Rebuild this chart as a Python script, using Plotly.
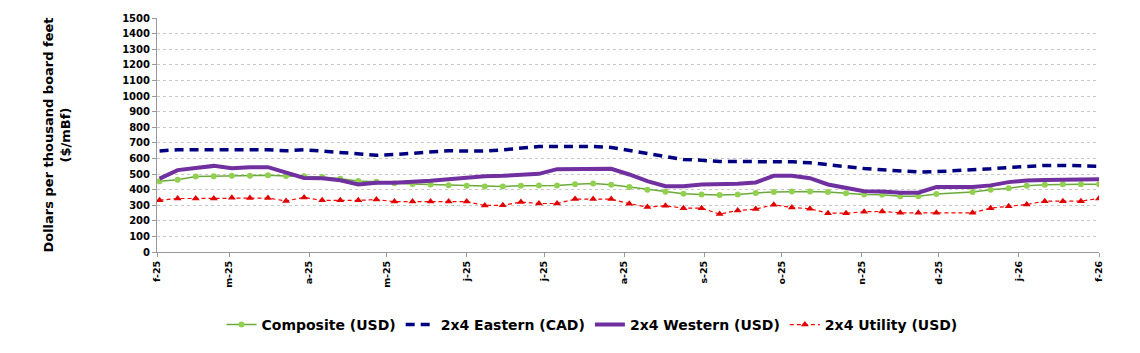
import plotly.graph_objects as go
import pandas as pd

# weekly dates (Feb 2025 - Feb 2026)
dates = pd.date_range("2025-02-02", periods=53, freq="7D")

composite = [453, 463, 484, 485, 488, 488, 492, 487, 485, 480, 470, 455, 451, 441,
             436, 432, 428, 424, 420, 420, 424, 427, 427, 435, 439, 431, 417, 399,
             386, 373, 369, 365, 369, 379, 384, 388, 388, 384, 377, 368, 367, 358,
             358, 371, None, 384, 399, 409, 424, 431, 435, 435, 435]
eastern = [648, 655, 655, 655, 655, 655, 655, 649, 655, 647, 638, 628, 620, 625,
           634, 644, 649, 647, 647, 655, 668, 676, 676, 676, 676, 670, 650, 629,
           608, 593, 588, 580, 580, 580, 580, 578, 572, 559, 544, 535, 527, 518,
           513, 515, None, 525, 533, 542, 550, 555, 555, 555, 550]
western = [470, 525, 538, 552, 537, 544, 544, 510, 475, 472, 460, 433, 444, 444,
           448, 456, 466, 477, 486, 488, 497, 501, 531, 533, 533, 533, 497, 454,
           422, 422, 433, 435, 437, 446, 488, 488, 473, 433, 409, 390, 388, 380,
           380, 416, None, 416, 427, 448, 459, 461, 461, 467, 467]
utility = [332, 343, 343, 343, 347, 346, 346, 327, 350, 331, 331, 331, 336, 323,
           323, 323, 323, 323, 298, 300, 320, 311, 311, 339, 339, 339, 310, 288,
           296, 281, 281, 243, 266, 275, 303, 285, 277, 249, 249, 258, 260, 251,
           251, 251, None, 251, 281, 294, 305, 326, 326, 326, 343]

tick_dates = pd.date_range("2025-02-01", periods=13, freq="MS")
tick_labels = ["f-25", "m-25", "a-25", "m-25", "j-25", "j-25", "a-25",
               "s-25", "o-25", "n-25", "d-25", "j-26", "f-26"]

FONT = "DejaVu Sans, Verdana, sans-serif"

fig = go.Figure()
fig.add_trace(go.Scatter(x=dates, y=composite, name="Composite (USD)", mode="lines+markers",
                         connectgaps=True,
                         line=dict(color="#6aaa3a", width=1.5),
                         marker=dict(color="#92d050", size=6, symbol="circle")))
fig.add_trace(go.Scatter(x=dates, y=eastern, name="2x4 Eastern (CAD)", mode="lines",
                         connectgaps=True,
                         line=dict(color="#000080", width=3.5, dash="9px,6px")))
fig.add_trace(go.Scatter(x=dates, y=western, name="2x4 Western (USD)", mode="lines",
                         connectgaps=True,
                         line=dict(color="#7030a0", width=4)))
fig.add_trace(go.Scatter(x=dates, y=utility, name="2x4 Utility (USD)", mode="lines+markers",
                         connectgaps=True,
                         line=dict(color="#ff0000", width=1.2, dash="4px,3px"),
                         marker=dict(color="#e00000", size=7, symbol="triangle-up")))

fig.update_layout(
    width=1140, height=353,
    margin=dict(l=157, r=41, t=18, b=101, autoexpand=False),
    paper_bgcolor="white", plot_bgcolor="white",
    font=dict(family=FONT, color="black"),
    legend=dict(orientation="h", x=(592 - 157) / 942, xanchor="center",
                yref="container", y=1 - 325 / 353, yanchor="middle",
                font=dict(size=14, weight="bold", family=FONT), traceorder="normal",
                itemwidth=30),
)
fig.update_xaxes(
    type="date", range=["2025-02-01", "2026-02-01"],
    tickmode="array", tickvals=tick_dates, ticktext=tick_labels,
    tickangle=-90, tickfont=dict(size=9.5, weight="bold", family=FONT),
    showgrid=False, showline=True, linecolor="#999999", linewidth=1,
    ticks="outside", ticklen=4, tickcolor="#999999", zeroline=False,
)
fig.update_yaxes(
    range=[0, 1500], dtick=100, tick0=0,
    tickfont=dict(size=10, weight="bold", family=FONT),
    showgrid=True, gridcolor="#c8c8c8", griddash="dot", gridwidth=1,
    showline=True, linecolor="#999999", linewidth=1,
    ticks="outside", ticklen=4, tickcolor="#999999", zeroline=False,
    title=dict(text="Dollars per thousand board feet<br>($/mBf)",
               font=dict(size=13, weight="bold", family=FONT), standoff=48),
)
fig.write_html("out.html")
